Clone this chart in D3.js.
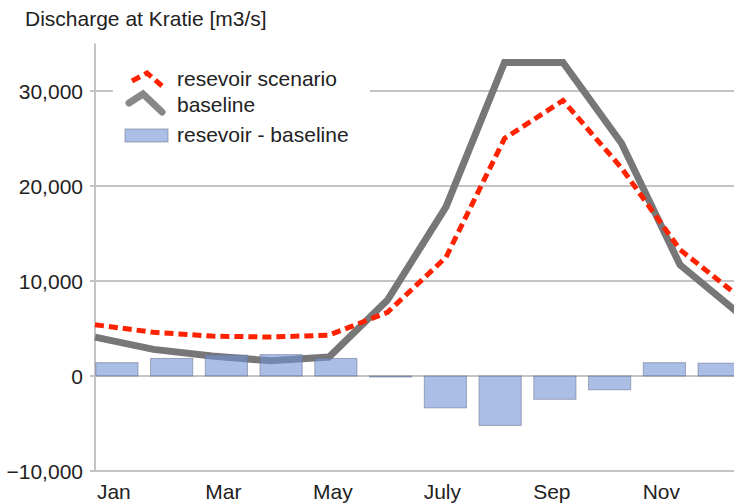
<!DOCTYPE html>
<html>
<head>
<meta charset="utf-8">
<script src="https://cdn.jsdelivr.net/npm/d3@7"></script>
<style>
  body { margin: 0; background: #fff; }
  svg { display: block; font-family: "Liberation Sans", Arial, sans-serif; }
</style>
</head>
<body>
<svg width="734" height="504"></svg>
<script>
// monthly discharge at Kratie, m3/s
var months = ["Jan","Feb","Mar","Apr","May","Jun","Jul","Aug","Sep","Oct","Nov","Dec"];
var monthLabels = ["Jan","","Mar","","May","","July","","Sep","","Nov",""];
var reservoir = [5400, 4600, 4200, 4100, 4300, 6700, 12500, 25000, 29000, 21900, 13300, 8400];
var baseline  = [4100, 2800, 2100, 1600, 2000, 8000, 17800, 33000, 33000, 24500, 11700, 6600];
var diff      = [1400, 1850, 2200, 2250, 1850, -100, -3350, -5200, -2450, -1450, 1400, 1350];
var yTicks = [-10000, 0, 10000, 20000, 30000];
var legendNames = ["resevoir scenario", "baseline", "resevoir - baseline"];

var svg = d3.select("svg");
var plotLeft = 95, plotBottom = 471, plotTop = 43.5;

var y = d3.scaleLinear().domain([-10000, 35000]).range([plotBottom, plotTop]);
// bars sit in bands, the lines use their own (wider) point spacing
var xBand = d3.scaleBand().domain(months).range([89.5, 89.5 + 12 * 54.75]).paddingInner(0.23).paddingOuter(0.115);
var xLine = d3.scalePoint().domain(months).range([plotLeft, plotLeft + 11 * 58.5]);

var fmt = d3.format(",");

// gridlines
svg.append("g").selectAll("line").data(yTicks).enter().append("line")
  .attr("x1", plotLeft - 5).attr("x2", 734)
  .attr("y1", function(d){ return y(d); }).attr("y2", function(d){ return y(d); })
  .attr("stroke", "#b0b0b0").attr("stroke-width", 1.5);

// y axis line
svg.append("line").attr("x1", plotLeft).attr("x2", plotLeft).attr("y1", plotTop).attr("y2", plotBottom)
  .attr("stroke", "#c4c4c4").attr("stroke-width", 2);

// y labels
svg.append("g").selectAll("text").data(yTicks).enter().append("text")
  .attr("x", 83).attr("y", function(d){ return y(d); }).attr("dy", "0.36em")
  .attr("text-anchor", "end").attr("font-size", 21).attr("fill", "#222")
  .text(function(d){ return fmt(d); });

// x labels
svg.append("g").selectAll("text").data(months).enter().append("text")
  .attr("x", function(d){ return xBand(d) + xBand.bandwidth() / 2 - 3; })
  .attr("y", 499).attr("text-anchor", "middle").attr("font-size", 21).attr("fill", "#222")
  .text(function(d, i){ return monthLabels[i]; });

// title
svg.append("text").attr("x", 25).attr("y", 26).attr("font-size", 21).attr("fill", "#222")
  .text("Discharge at Kratie [m3/s]");

// legend box hides the top gridline
svg.append("rect").attr("x", 113).attr("y", 55).attr("width", 257).attr("height", 100).attr("fill", "#fff");

// lines
var line = d3.line().x(function(d, i){ return xLine(months[i]); }).y(function(d){ return y(d); });
svg.append("path").datum(baseline).attr("d", line)
  .attr("fill", "none").attr("stroke", "#777").attr("stroke-width", 7);
svg.append("path").datum(reservoir).attr("d", line)
  .attr("fill", "none").attr("stroke", "#ff2200").attr("stroke-width", 5).attr("stroke-dasharray", "9,5");

// bars on top, semi transparent
svg.append("g").selectAll("rect").data(diff).enter().append("rect")
  .attr("x", function(d, i){ return xBand(months[i]); })
  .attr("width", xBand.bandwidth())
  .attr("y", function(d){ return y(Math.max(0, d)); })
  .attr("height", function(d){ return Math.max(1, Math.abs(y(d) - y(0))); })
  .attr("fill", "rgb(113,147,213)").attr("fill-opacity", 0.6)
  .attr("stroke", "rgb(110,120,150)").attr("stroke-opacity", 0.6).attr("stroke-width", 1);

// legend
var lg = svg.append("g");
lg.append("path").attr("d", "M132,81L147,73L162,86")
  .attr("fill", "none").attr("stroke", "#ff2200").attr("stroke-width", 5).attr("stroke-dasharray", "9,5");
lg.append("path").attr("d", "M129,103L143,94L162,112")
  .attr("fill", "none").attr("stroke", "#888").attr("stroke-width", 7).attr("stroke-linecap", "round");
lg.append("rect").attr("x", 125).attr("y", 129).attr("width", 43).attr("height", 13)
  .attr("fill", "rgb(113,147,213)").attr("fill-opacity", 0.6)
  .attr("stroke", "rgb(110,120,150)").attr("stroke-opacity", 0.6);
lg.selectAll("text").data(legendNames).enter().append("text")
  .attr("x", 177).attr("y", function(d, i){ return [86, 112, 142][i]; })
  .attr("font-size", 21).attr("fill", "#222")
  .text(function(d){ return d; });
</script>
</body>
</html>
